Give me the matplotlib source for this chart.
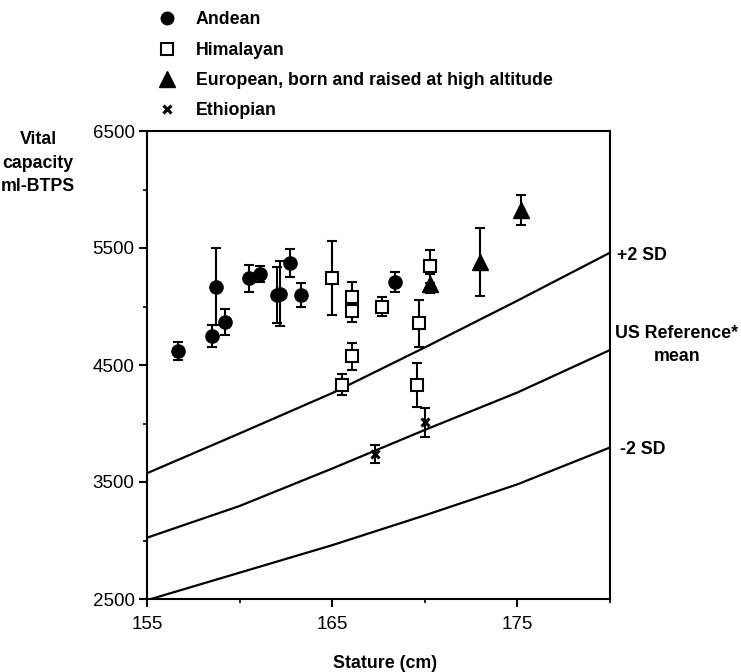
import matplotlib.pyplot as plt
import matplotlib.lines as mlines
import numpy as np

# reference curves (US reference)
ref_x = [155, 160, 165, 170, 175, 180]
plus2sd = [3575, 3915, 4260, 4650, 5050, 5460]
ref_mean = [3024, 3295, 3615, 3945, 4265, 4628]
minus2sd = [2490, 2725, 2960, 3215, 3480, 3795]

# groups: stature, vital capacity, error
andean_x = [156.7, 158.5, 158.7, 159.2, 160.5, 161.1, 162.0, 162.2, 162.7, 163.3, 168.4]
andean_y = [4620, 4745, 5170, 4870, 5240, 5280, 5095, 5110, 5375, 5095, 5210]
andean_err = [75, 95, 330, 110, 118, 70, 240, 275, 120, 103, 85]

himal_x = [165.0, 166.05, 166.05, 167.7, 170.3, 169.7, 166.05, 165.55, 169.6]
himal_y = [5245, 5080, 4965, 5000, 5345, 4855, 4575, 4330, 4330]
himal_err = [315, 130, 100, 80, 140, 200, 115, 90, 185]

europ_x = [170.3, 173.0, 175.2]
europ_y = [5195, 5380, 5825]
europ_err = [80, 290, 130]

ethiop_x = [170.0, 167.3]
ethiop_y = [4010, 3740]
ethiop_err = [125, 75]

plt.rcParams['font.family'] = ['Liberation Sans', 'DejaVu Sans']

fig = plt.figure(figsize=(7.41, 6.72), dpi=100)
ax = fig.add_axes([147 / 741, 1 - 599 / 672, 463 / 741, 468 / 672])

ax.plot(ref_x, plus2sd, color='black', lw=1.6)
ax.plot(ref_x, ref_mean, color='black', lw=1.6)
ax.plot(ref_x, minus2sd, color='black', lw=1.6)

eb = dict(fmt='none', ecolor='black', elinewidth=1.5, capsize=3.5, capthick=1.5, zorder=3)
ax.errorbar(andean_x, andean_y, yerr=andean_err, **eb)
ax.errorbar(himal_x, himal_y, yerr=himal_err, **eb)
ax.errorbar(europ_x, europ_y, yerr=europ_err, **eb)
ax.errorbar(ethiop_x, ethiop_y, yerr=ethiop_err, **eb)

ax.plot(andean_x, andean_y, 'o', ms=9.5, color='black', zorder=4)
ax.plot(himal_x, himal_y, 's', ms=8, mfc='white', mec='black', mew=1.5, zorder=4)
ax.plot(europ_x, europ_y, '^', ms=11.5, color='black', zorder=4)
ax.plot(ethiop_x, ethiop_y, 'x', ms=6, mew=2.2, color='black', zorder=4)

ax.set_xlim(155, 180)
ax.set_ylim(2500, 6500)
ax.set_xticks([155, 165, 175])
ax.set_xticks([160, 170, 180], minor=True)
ax.set_yticks([2500, 3500, 4500, 5500, 6500])
ax.set_yticks([3000, 4000, 5000, 6000], minor=True)
ax.tick_params(which='major', length=6, width=1.5, labelsize=13.5, pad=3)
ax.tick_params(which='minor', length=3, width=1.2)
ax.tick_params(axis='x', which='major', pad=6)
for s in ax.spines.values():
    s.set_linewidth(1.5)

bold = dict(fontsize=12.8, fontweight='bold')
fig.text(385 / 741, 1 - 663 / 672, 'Stature (cm)', ha='center', va='center', **bold)
fig.text(38 / 741, 1 - 163 / 672, 'Vital\ncapacity\nml-BTPS', ha='center', va='center',
         linespacing=1.5, **bold)
fig.text(617 / 741, 1 - 255 / 672, '+2 SD', ha='left', va='center', **bold)
fig.text(677 / 741, 1 - 345 / 672, 'US Reference*\nmean', ha='center', va='center',
         linespacing=1.5, **bold)
fig.text(620 / 741, 1 - 450 / 672, '-2 SD', ha='left', va='center', **bold)

h1 = mlines.Line2D([], [], color='black', marker='o', ls='None', ms=9, label='Andean')
h2 = mlines.Line2D([], [], color='black', marker='s', mfc='white', mew=1.5, ls='None', ms=8,
                   label='Himalayan')
h3 = mlines.Line2D([], [], color='black', marker='^', ls='None', ms=11,
                   label='European, born and raised at high altitude')
h4 = mlines.Line2D([], [], color='black', marker='x', mew=2.2, ls='None', ms=6, label='Ethiopian')
fig.legend(handles=[h1, h2, h3, h4], loc='upper left', bbox_to_anchor=(144 / 741, 1 + 1 / 672),
           frameon=False, prop={'size': 12.8, 'weight': 'bold'}, labelspacing=0.75,
           handlelength=1.2, handletextpad=1.0, borderpad=0.2)

fig.savefig('out.png', dpi=100)
